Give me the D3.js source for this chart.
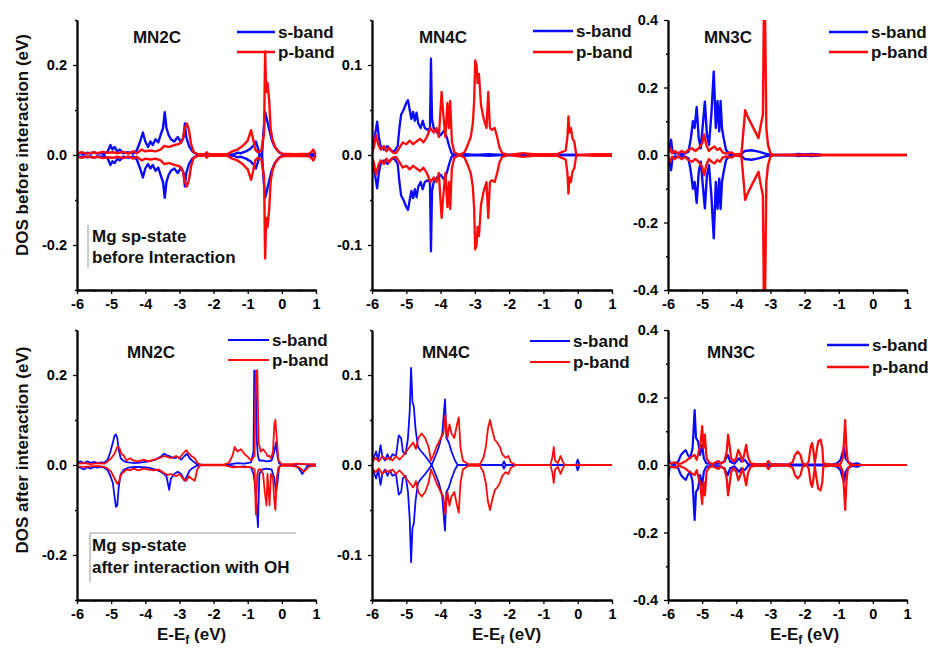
<!DOCTYPE html>
<html>
<head>
<meta charset="utf-8">
<script src="https://cdn.jsdelivr.net/npm/d3@7"></script>
<style>
  html, body { margin: 0; padding: 0; background: #ffffff; }
  svg { display: block; font-family: "Liberation Sans", Arial, sans-serif; font-weight: bold; }
</style>
</head>
<body>
<script>
// ---------------- DATA ----------------
const energyTicks = [-6, -5, -4, -3, -2, -1, 0, 1];
const energyMinorTicks = [-5.5, -4.5, -3.5, -2.5, -1.5, -0.5, 0.5];
const panelTitles = ["MN2C", "MN4C", "MN3C", "MN2C", "MN4C", "MN3C"];
const yLimits = [0.3, 0.15, 0.4, 0.3, 0.15, 0.4];
const yMajorTicks = [[-0.2, 0, 0.2], [-0.1, 0, 0.1], [-0.4, -0.2, 0, 0.2, 0.4],
                     [-0.2, 0, 0.2], [-0.1, 0, 0.1], [-0.4, -0.2, 0, 0.2, 0.4]];
const yMinorTicks = [[-0.3, -0.1, 0.1, 0.3], [-0.15, -0.05, 0.05, 0.15], [-0.3, -0.1, 0.1, 0.3],
                     [-0.3, -0.1, 0.1, 0.3], [-0.15, -0.05, 0.05, 0.15], [-0.3, -0.1, 0.1, 0.3]];
const legendLabels = ["s-band", "p-band"];
const rowTitles = ["DOS before interaction (eV)", "DOS after interaction (eV)"];
const noteBefore = ["Mg sp-state", "before Interaction"];
const noteAfter = ["Mg sp-state", "after interaction with OH"];

// rows: [E - Ef, spin-up DOS, spin-down DOS]
const mn2cBeforeS = [
 [-6.0,0.002,-0.002],[-5.9,0.004,-0.004],[-5.8,0.002,-0.003],[-5.7,0.005,-0.005],[-5.6,0.003,-0.003],
 [-5.5,0.006,-0.006],[-5.4,0.003,-0.003],[-5.3,0.004,-0.004],[-5.2,0.002,-0.002],[-5.1,0.008,-0.008],
 [-5.02,0.022,-0.022],[-4.96,0.012,-0.014],[-4.9,0.018,-0.018],[-4.82,0.008,-0.008],[-4.75,0.012,-0.012],
 [-4.65,0.004,-0.004],[-4.5,0.006,-0.006],[-4.35,0.003,-0.003],[-4.25,0.01,-0.01],[-4.15,0.03,-0.03],
 [-4.07,0.05,-0.05],[-4.0,0.03,-0.03],[-3.92,0.018,-0.02],[-3.85,0.03,-0.03],[-3.78,0.022,-0.022],
 [-3.7,0.035,-0.035],[-3.62,0.028,-0.028],[-3.55,0.045,-0.045],[-3.48,0.06,-0.06],[-3.43,0.095,-0.095],
 [-3.38,0.06,-0.06],[-3.32,0.045,-0.045],[-3.25,0.035,-0.035],[-3.15,0.03,-0.03],[-3.05,0.04,-0.04],
 [-2.95,0.028,-0.028],[-2.88,0.04,-0.04],[-2.84,0.07,-0.07],[-2.8,0.04,-0.04],[-2.72,0.02,-0.02],
 [-2.62,0.008,-0.008],[-2.5,0.002,-0.002],[-2.2,0.001,-0.001],[-1.6,0.001,-0.001],[-1.4,0.002,-0.002],
 [-1.3,0.005,-0.005],[-1.2,0.004,-0.004],[-1.05,0.008,-0.008],[-0.92,0.014,-0.014],[-0.82,0.022,-0.022],
 [-0.76,0.03,-0.03],[-0.7,0.015,-0.015],[-0.65,0.0,0.0],[-0.58,0.0,0.0],[-0.53,0.06,-0.06],
 [-0.49,0.095,-0.095],[-0.44,0.08,-0.08],[-0.38,0.06,-0.06],[-0.3,0.035,-0.035],[-0.22,0.02,-0.02],
 [-0.15,0.012,-0.012],[-0.05,0.004,-0.004],[0.1,0.001,-0.001],[0.8,0.001,-0.001],[0.9,0.003,-0.003],
 [1.0,0.001,-0.001]
];
const mn2cBeforeP = [
 [-6.0,0.004,-0.004],[-5.85,0.006,-0.006],[-5.7,0.003,-0.003],[-5.55,0.006,-0.006],[-5.4,0.004,-0.004],
 [-5.25,0.007,-0.007],[-5.1,0.005,-0.005],[-4.95,0.006,-0.006],[-4.8,0.004,-0.004],[-4.65,0.007,-0.007],
 [-4.5,0.003,-0.003],[-4.35,0.008,-0.008],[-4.25,0.004,-0.004],[-4.1,0.012,-0.012],[-4.0,0.008,-0.008],
 [-3.85,0.01,-0.01],[-3.7,0.008,-0.008],[-3.55,0.012,-0.012],[-3.45,0.02,-0.02],[-3.3,0.018,-0.018],
 [-3.15,0.022,-0.022],[-3.0,0.025,-0.025],[-2.9,0.035,-0.035],[-2.84,0.06,-0.06],[-2.78,0.07,-0.07],
 [-2.72,0.055,-0.055],[-2.66,0.025,-0.025],[-2.58,0.006,-0.006],[-2.45,0.002,-0.002],[-2.25,0.002,-0.002],
 [-2.2,0.006,-0.006],[-2.15,0.002,-0.002],[-1.6,0.002,-0.002],[-1.45,0.008,-0.008],[-1.3,0.012,-0.012],
 [-1.15,0.02,-0.02],[-1.0,0.032,-0.032],[-0.9,0.055,-0.055],[-0.84,0.035,-0.035],[-0.78,0.012,-0.012],
 [-0.7,0.006,-0.006],[-0.6,0.01,-0.01],[-0.52,0.05,-0.05],[-0.49,0.23,-0.23],[-0.46,0.14,-0.14],
 [-0.42,0.16,-0.16],[-0.37,0.12,-0.12],[-0.33,0.06,-0.06],[-0.28,0.035,-0.035],[-0.2,0.018,-0.018],
 [-0.1,0.008,-0.008],[0.0,0.003,-0.003],[0.4,0.002,-0.002],[0.8,0.003,-0.003],[0.88,0.008,-0.008],
 [0.92,0.012,-0.012],[0.98,0.003,-0.003],[1.0,0.002,-0.002]
];
const mn4cBeforeS = [
 [-6.0,0.005,-0.005],[-5.95,0.012,-0.012],[-5.9,0.025,-0.025],[-5.85,0.037,-0.037],[-5.8,0.02,-0.02],
 [-5.75,0.01,-0.01],[-5.65,0.006,-0.006],[-5.55,0.01,-0.01],[-5.45,0.005,-0.005],[-5.35,0.004,-0.004],
 [-5.25,0.01,-0.01],[-5.2,0.03,-0.03],[-5.15,0.045,-0.045],[-5.08,0.05,-0.05],[-5.0,0.058,-0.058],
 [-4.95,0.061,-0.061],[-4.9,0.05,-0.05],[-4.85,0.04,-0.04],[-4.8,0.048,-0.048],[-4.75,0.038,-0.038],
 [-4.7,0.047,-0.047],[-4.65,0.035,-0.035],[-4.58,0.03,-0.03],[-4.52,0.038,-0.038],[-4.46,0.03,-0.03],
 [-4.38,0.028,-0.028],[-4.31,0.03,-0.03],[-4.28,0.107,-0.107],[-4.25,0.04,-0.04],[-4.2,0.03,-0.03],
 [-4.1,0.025,-0.025],[-4.0,0.022,-0.022],[-3.9,0.027,-0.027],[-3.82,0.02,-0.02],[-3.75,0.01,-0.01],
 [-3.68,0.002,-0.002],[-3.6,0.0,0.0],[-3.3,0.001,-0.001],[-3.0,0.0,0.0],[-2.6,0.001,-0.001],
 [-2.2,0.0,0.0],[0.0,0.0,0.0]
];
const mn4cBeforeP = [
 [-6.0,0.003,-0.003],[-5.95,0.008,-0.008],[-5.88,0.022,-0.022],[-5.82,0.012,-0.012],[-5.75,0.006,-0.006],
 [-5.65,0.01,-0.01],[-5.58,0.004,-0.004],[-5.5,0.008,-0.008],[-5.4,0.003,-0.003],[-5.3,0.002,-0.002],
 [-5.2,0.008,-0.008],[-5.1,0.014,-0.014],[-5.0,0.012,-0.012],[-4.9,0.016,-0.016],[-4.8,0.012,-0.012],
 [-4.7,0.015,-0.015],[-4.6,0.018,-0.018],[-4.5,0.014,-0.014],[-4.4,0.02,-0.02],[-4.3,0.03,-0.03],
 [-4.2,0.025,-0.025],[-4.12,0.03,-0.03],[-4.05,0.02,-0.02],[-3.97,0.07,-0.07],[-3.92,0.045,-0.045],
 [-3.86,0.02,-0.02],[-3.8,0.058,-0.058],[-3.76,0.03,-0.03],[-3.72,0.06,-0.06],[-3.67,0.015,-0.015],
 [-3.6,0.003,-0.003],[-3.45,0.0,0.0],[-3.3,0.003,-0.003],[-3.2,0.012,-0.012],[-3.12,0.02,-0.02],
 [-3.06,0.035,-0.035],[-3.02,0.06,-0.06],[-2.99,0.105,-0.105],[-2.95,0.1,-0.1],[-2.92,0.08,-0.08],
 [-2.88,0.09,-0.09],[-2.82,0.055,-0.055],[-2.74,0.04,-0.04],[-2.66,0.03,-0.03],[-2.61,0.07,-0.07],
 [-2.56,0.03,-0.03],[-2.5,0.028,-0.028],[-2.42,0.03,-0.03],[-2.35,0.02,-0.02],[-2.28,0.008,-0.008],
 [-2.2,0.002,-0.002],[-2.0,0.0,0.0],[-1.6,0.002,-0.002],[-1.3,0.001,-0.001],[-0.6,0.001,-0.001],
 [-0.35,0.005,-0.005],[-0.3,0.02,-0.02],[-0.27,0.043,-0.043],[-0.24,0.025,-0.025],[-0.2,0.03,-0.03],
 [-0.15,0.018,-0.018],[-0.1,0.015,-0.015],[-0.05,0.002,-0.002],[0.0,0.0,0.0],[0.5,0.001,-0.001],
 [1.0,0.001,-0.001]
];
const mn3cBeforeS = [
 [-6.0,0.005,-0.005],[-5.95,0.02,-0.02],[-5.91,0.045,-0.045],[-5.87,0.01,-0.01],[-5.8,0.004,-0.004],
 [-5.7,0.006,-0.006],[-5.6,0.003,-0.003],[-5.5,0.005,-0.005],[-5.4,0.01,-0.01],[-5.33,0.05,-0.05],
 [-5.27,0.1,-0.1],[-5.22,0.08,-0.08],[-5.16,0.142,-0.142],[-5.1,0.05,-0.05],[-5.04,0.02,-0.02],
 [-4.98,0.09,-0.09],[-4.92,0.158,-0.158],[-4.86,0.06,-0.06],[-4.8,0.03,-0.03],[-4.73,0.12,-0.12],
 [-4.66,0.247,-0.247],[-4.6,0.08,-0.08],[-4.55,0.16,-0.16],[-4.5,0.07,-0.07],[-4.46,0.16,-0.16],
 [-4.42,0.08,-0.08],[-4.37,0.05,-0.05],[-4.3,0.015,-0.015],[-4.2,0.003,-0.003],[-4.0,0.002,-0.002],
 [-3.85,0.003,-0.003],[-3.75,0.012,-0.012],[-3.55,0.014,-0.014],[-3.35,0.01,-0.01],[-3.15,0.004,-0.004],
 [-3.0,0.001,-0.001],[-2.3,0.0,0.0],[-2.2,0.003,-0.003],[-2.0,0.002,-0.002],[-1.8,0.003,-0.003],
 [-1.6,0.002,-0.002],[-1.5,0.0,0.0]
];
const mn3cBeforeP = [
 [-6.0,0.005,-0.005],[-5.93,0.02,-0.02],[-5.88,0.005,-0.005],[-5.8,0.012,-0.012],[-5.7,0.004,-0.004],
 [-5.6,0.012,-0.012],[-5.5,0.006,-0.006],[-5.4,0.015,-0.015],[-5.3,0.02,-0.02],[-5.2,0.012,-0.012],
 [-5.1,0.02,-0.02],[-5.0,0.035,-0.035],[-4.94,0.06,-0.06],[-4.88,0.03,-0.03],[-4.8,0.012,-0.012],
 [-4.72,0.02,-0.02],[-4.64,0.025,-0.025],[-4.56,0.015,-0.015],[-4.48,0.02,-0.02],[-4.4,0.008,-0.008],
 [-4.3,0.004,-0.004],[-4.15,0.008,-0.008],[-4.05,0.002,-0.002],[-3.85,0.004,-0.004],[-3.8,0.06,-0.06],
 [-3.74,0.133,-0.133],[-3.65,0.11,-0.11],[-3.55,0.09,-0.09],[-3.45,0.07,-0.07],[-3.35,0.05,-0.05],
 [-3.28,0.09,-0.09],[-3.22,0.12,-0.12],[-3.19,0.45,-0.45],[-3.16,0.45,-0.45],[-3.12,0.08,-0.08],
 [-3.07,0.03,-0.03],[-3.0,0.005,-0.005],[-2.9,0.0,0.0],[1.0,0.0,0.0]
];
const mn2cAfterS = [
 [-6.0,0.004,-0.004],[-5.9,0.008,-0.006],[-5.8,0.004,-0.01],[-5.7,0.008,-0.005],[-5.6,0.005,-0.008],
 [-5.5,0.007,-0.004],[-5.4,0.004,-0.006],[-5.3,0.006,-0.004],[-5.2,0.005,-0.006],[-5.1,0.012,-0.012],
 [-5.02,0.03,-0.025],[-4.95,0.05,-0.04],[-4.9,0.065,-0.07],[-4.86,0.068,-0.093],[-4.82,0.06,-0.09],
 [-4.78,0.035,-0.05],[-4.72,0.015,-0.02],[-4.62,0.008,-0.01],[-4.5,0.006,-0.006],[-4.3,0.004,-0.004],
 [-4.1,0.006,-0.005],[-3.9,0.008,-0.006],[-3.7,0.012,-0.01],[-3.55,0.018,-0.015],[-3.45,0.025,-0.02],
 [-3.38,0.022,-0.025],[-3.3,0.02,-0.055],[-3.25,0.018,-0.03],[-3.15,0.015,-0.02],[-3.05,0.018,-0.015],
 [-2.95,0.012,-0.02],[-2.85,0.02,-0.035],[-2.78,0.025,-0.025],[-2.7,0.015,-0.012],[-2.6,0.008,-0.006],
 [-2.5,0.002,-0.002],[-2.3,0.0,0.0],[-1.6,0.0,0.0],[-1.5,0.002,-0.002],[-1.3,0.004,-0.004],
 [-1.1,0.003,-0.003],[-0.9,0.006,-0.006],[-0.83,0.03,-0.02],[-0.81,0.21,-0.03],[-0.77,0.2,-0.06],
 [-0.73,0.05,-0.1],[-0.7,0.02,-0.138],[-0.66,0.01,-0.02],[-0.58,0.01,-0.01],[-0.45,0.008,-0.008],
 [-0.3,0.01,-0.01],[-0.22,0.03,-0.03],[-0.17,0.05,-0.06],[-0.13,0.02,-0.04],[-0.08,0.004,-0.004],
 [0.0,0.0,0.0],[0.4,0.0,-0.001],[0.5,0.002,-0.008],[0.6,0.002,-0.02],[0.66,0.002,-0.012],
 [0.75,0.0,-0.002],[1.0,0.0,0.0]
];
const mn2cAfterP = [
 [-6.0,0.003,-0.003],[-5.8,0.004,-0.004],[-5.6,0.002,-0.003],[-5.4,0.004,-0.002],[-5.2,0.003,-0.004],
 [-5.1,0.008,-0.008],[-5.0,0.015,-0.015],[-4.9,0.025,-0.03],[-4.82,0.04,-0.042],[-4.76,0.038,-0.035],
 [-4.7,0.025,-0.02],[-4.62,0.02,-0.015],[-4.55,0.01,-0.01],[-4.45,0.015,-0.012],[-4.35,0.01,-0.008],
 [-4.2,0.008,-0.012],[-4.05,0.012,-0.008],[-3.9,0.008,-0.01],[-3.75,0.012,-0.012],[-3.6,0.015,-0.01],
 [-3.45,0.02,-0.018],[-3.35,0.018,-0.022],[-3.25,0.015,-0.02],[-3.1,0.02,-0.025],[-3.0,0.015,-0.02],
 [-2.9,0.025,-0.03],[-2.8,0.033,-0.035],[-2.72,0.025,-0.025],[-2.65,0.02,-0.03],[-2.55,0.015,-0.035],
 [-2.48,0.005,-0.01],[-2.4,0.001,-0.001],[-1.7,0.001,-0.001],[-1.55,0.005,-0.003],[-1.45,0.02,-0.005],
 [-1.38,0.04,-0.005],[-1.3,0.03,-0.004],[-1.2,0.035,-0.004],[-1.1,0.025,-0.005],[-1.0,0.018,-0.004],
 [-0.9,0.01,-0.005],[-0.8,0.02,-0.01],[-0.76,0.21,-0.11],[-0.72,0.21,-0.02],[-0.68,0.05,-0.01],
 [-0.62,0.03,-0.01],[-0.55,0.035,-0.02],[-0.5,0.03,-0.06],[-0.45,0.025,-0.09],[-0.42,0.02,-0.02],
 [-0.36,0.02,-0.09],[-0.32,0.015,-0.02],[-0.26,0.03,-0.03],[-0.22,0.09,-0.08],[-0.19,0.1,-0.1],
 [-0.15,0.06,-0.03],[-0.1,0.01,-0.005],[0.0,0.002,-0.002],[0.3,0.002,-0.002],[0.5,0.003,-0.005],
 [0.65,0.002,-0.015],[0.8,0.002,-0.003],[1.0,0.002,-0.002]
];
const mn4cAfterS = [
 [-6.0,0.003,-0.003],[-5.95,0.008,-0.008],[-5.88,0.015,-0.015],[-5.82,0.005,-0.005],[-5.75,0.022,-0.022],
 [-5.7,0.01,-0.01],[-5.62,0.005,-0.005],[-5.55,0.012,-0.012],[-5.48,0.006,-0.006],[-5.4,0.012,-0.012],
 [-5.3,0.01,-0.01],[-5.22,0.033,-0.033],[-5.15,0.03,-0.03],[-5.1,0.015,-0.015],[-5.02,0.012,-0.012],
 [-4.95,0.03,-0.03],[-4.9,0.06,-0.06],[-4.86,0.108,-0.108],[-4.82,0.07,-0.07],[-4.78,0.065,-0.065],
 [-4.73,0.04,-0.04],[-4.66,0.02,-0.02],[-4.56,0.015,-0.015],[-4.45,0.01,-0.01],[-4.35,0.005,-0.005],
 [-4.26,0.0,0.0],[-4.15,0.01,-0.01],[-4.05,0.02,-0.02],[-3.95,0.035,-0.035],[-3.9,0.06,-0.06],
 [-3.87,0.073,-0.073],[-3.83,0.03,-0.03],[-3.76,0.025,-0.025],[-3.68,0.015,-0.015],[-3.58,0.005,-0.005],
 [-3.5,0.0,0.0],[-2.2,0.0,0.0],[-2.15,0.004,-0.004],[-2.1,0.0,0.0],[-0.05,0.0,0.0],
 [0.0,0.006,-0.006],[0.05,0.0,0.0],[1.0,0.0,0.0]
];
const mn4cAfterP = [
 [-6.0,0.003,-0.003],[-5.9,0.008,-0.008],[-5.8,0.004,-0.004],[-5.7,0.01,-0.01],[-5.6,0.006,-0.006],
 [-5.5,0.008,-0.008],[-5.4,0.005,-0.005],[-5.3,0.01,-0.01],[-5.2,0.006,-0.006],[-5.1,0.01,-0.01],
 [-5.0,0.015,-0.015],[-4.9,0.02,-0.02],[-4.8,0.025,-0.025],[-4.72,0.018,-0.018],[-4.65,0.03,-0.03],
 [-4.55,0.035,-0.035],[-4.45,0.03,-0.03],[-4.35,0.02,-0.02],[-4.28,0.005,-0.005],[-4.22,0.01,-0.01],
 [-4.12,0.02,-0.02],[-4.02,0.028,-0.028],[-3.92,0.035,-0.035],[-3.86,0.055,-0.055],[-3.8,0.03,-0.03],
 [-3.74,0.045,-0.045],[-3.68,0.035,-0.035],[-3.6,0.03,-0.03],[-3.52,0.045,-0.045],[-3.47,0.053,-0.053],
 [-3.42,0.02,-0.02],[-3.35,0.005,-0.005],[-3.2,0.001,-0.001],[-2.85,0.001,-0.001],[-2.75,0.008,-0.008],
 [-2.68,0.02,-0.02],[-2.62,0.04,-0.04],[-2.56,0.05,-0.05],[-2.5,0.04,-0.04],[-2.42,0.028,-0.028],
 [-2.35,0.025,-0.025],[-2.27,0.02,-0.02],[-2.2,0.012,-0.012],[-2.1,0.008,-0.008],[-2.02,0.01,-0.01],
 [-1.95,0.003,-0.003],[-1.8,0.0,0.0],[-0.8,0.0,0.0],[-0.74,0.008,-0.008],[-0.7,0.02,-0.02],
 [-0.66,0.005,-0.005],[-0.58,0.002,-0.002],[-0.5,0.01,-0.01],[-0.44,0.004,-0.004],[-0.38,0.0,0.0],
 [1.0,0.0,0.0]
];
const mn3cAfterS = [
 [-6.0,0.04,-0.04],[-5.96,0.01,-0.01],[-5.9,0.004,-0.004],[-5.8,0.003,-0.003],[-5.7,0.01,-0.01],
 [-5.62,0.03,-0.03],[-5.55,0.038,-0.038],[-5.48,0.044,-0.044],[-5.42,0.03,-0.03],[-5.35,0.02,-0.02],
 [-5.28,0.05,-0.05],[-5.22,0.163,-0.163],[-5.18,0.08,-0.08],[-5.12,0.07,-0.07],[-5.06,0.03,-0.03],
 [-5.0,0.06,-0.06],[-4.95,0.02,-0.02],[-4.88,0.005,-0.005],[-4.7,0.003,-0.003],[-4.5,0.004,-0.004],
 [-4.35,0.01,-0.01],[-4.25,0.03,-0.03],[-4.18,0.01,-0.01],[-4.05,0.004,-0.004],[-3.92,0.02,-0.02],
 [-3.85,0.01,-0.01],[-3.75,0.015,-0.015],[-3.65,0.002,-0.002],[-3.0,0.002,-0.002],[-2.3,0.001,-0.001],
 [-1.2,0.001,-0.001],[-1.05,0.005,-0.005],[-0.95,0.015,-0.015],[-0.88,0.04,-0.04],[-0.84,0.05,-0.05],
 [-0.8,0.02,-0.02],[-0.72,0.008,-0.008],[-0.6,0.003,-0.003],[-0.45,0.005,-0.005],[-0.35,0.0,0.0]
];
const mn3cAfterP = [
 [-6.0,0.01,-0.01],[-5.92,0.005,-0.005],[-5.8,0.008,-0.008],[-5.7,0.003,-0.003],[-5.6,0.005,-0.005],
 [-5.5,0.01,-0.01],[-5.4,0.018,-0.018],[-5.3,0.025,-0.025],[-5.22,0.03,-0.03],[-5.16,0.015,-0.015],
 [-5.1,0.04,-0.04],[-5.05,0.06,-0.06],[-5.0,0.115,-0.115],[-4.96,0.05,-0.05],[-4.92,0.09,-0.09],
 [-4.87,0.02,-0.02],[-4.8,0.008,-0.008],[-4.7,0.003,-0.003],[-4.6,0.008,-0.008],[-4.52,0.012,-0.012],
 [-4.45,0.004,-0.004],[-4.35,0.01,-0.01],[-4.28,0.04,-0.04],[-4.24,0.09,-0.09],[-4.2,0.06,-0.06],
 [-4.15,0.02,-0.02],[-4.08,0.01,-0.01],[-4.0,0.02,-0.02],[-3.94,0.045,-0.045],[-3.88,0.03,-0.03],
 [-3.82,0.01,-0.01],[-3.76,0.035,-0.035],[-3.71,0.06,-0.06],[-3.66,0.025,-0.025],[-3.58,0.005,-0.005],
 [-3.4,0.002,-0.002],[-3.12,0.003,-0.003],[-3.06,0.012,-0.012],[-3.0,0.003,-0.003],[-2.5,0.001,-0.001],
 [-2.35,0.008,-0.008],[-2.28,0.03,-0.03],[-2.2,0.04,-0.04],[-2.12,0.03,-0.03],[-2.06,0.005,-0.005],
 [-1.95,0.0,0.0],[-1.88,0.01,-0.01],[-1.82,0.055,-0.055],[-1.78,0.065,-0.065],[-1.74,0.04,-0.04],
 [-1.7,0.005,-0.005],[-1.65,0.04,-0.04],[-1.6,0.07,-0.07],[-1.53,0.075,-0.075],[-1.48,0.05,-0.05],
 [-1.45,0.005,-0.005],[-1.2,0.001,-0.001],[-0.95,0.003,-0.003],[-0.88,0.02,-0.02],[-0.84,0.08,-0.08],
 [-0.81,0.133,-0.133],[-0.78,0.06,-0.06],[-0.74,0.015,-0.015],[-0.68,0.003,-0.003],[-0.5,0.0,0.0],
 [1.0,0.0,0.0]
];

// ---------------- LAYOUT / STYLE ----------------
const sBands = [mn2cBeforeS, mn4cBeforeS, mn3cBeforeS, mn2cAfterS, mn4cAfterS, mn3cAfterS];
const pBands = [mn2cBeforeP, mn4cBeforeP, mn3cBeforeP, mn2cAfterP, mn4cAfterP, mn3cAfterP];
const BLUE = "#0a0aff", RED = "#ff0a0a";

const frames = [
  {x0: 77,  x1: 316, y0: 20,  y1: 290},
  {x0: 372, x1: 612, y0: 20,  y1: 290},
  {x0: 668, x1: 907, y0: 20,  y1: 290},
  {x0: 77,  x1: 316, y0: 330, y1: 600},
  {x0: 372, x1: 612, y0: 330, y1: 600},
  {x0: 668, x1: 907, y0: 330, y1: 600}
];
const titlePos = [[157, 43], [443, 43], [728, 43], [151, 358], [446, 358], [731, 358]];
const legendPos = [
  {lx0: 237, lx1: 275, ys: 32,  yp: 52,  tx: 278},
  {lx0: 533, lx1: 573, ys: 31,  yp: 52,  tx: 576},
  {lx0: 829, lx1: 868, ys: 32,  yp: 52,  tx: 871},
  {lx0: 228, lx1: 269, ys: 340, yp: 360, tx: 272},
  {lx0: 530, lx1: 570, ys: 341, yp: 362, tx: 573},
  {lx0: 827, lx1: 869, ys: 345, yp: 367, tx: 872}
];
const lineWidths = [2.4, 2.3, 2.4, 1.8, 1.8, 2.2];

const svg = d3.select("body").append("svg").attr("width", 932).attr("height", 655);
svg.append("rect").attr("width", 932).attr("height", 655).attr("fill", "#ffffff");
const defs = svg.append("defs");

frames.forEach((f, i) => {
  const x = d3.scaleLinear().domain([-6, 1]).range([f.x0, f.x1]);
  const y = d3.scaleLinear().domain([-yLimits[i], yLimits[i]]).range([f.y1, f.y0]);
  const g = svg.append("g");

  defs.append("clipPath").attr("id", "clip" + i)
    .append("rect").attr("x", f.x0).attr("y", f.y0)
    .attr("width", f.x1 - f.x0 + 4).attr("height", f.y1 - f.y0);

  const plot = g.append("g").attr("clip-path", "url(#clip" + i + ")");
  const upLine = d3.line().x(d => x(d[0])).y(d => y(d[1]));
  const dnLine = d3.line().x(d => x(d[0])).y(d => y(d[2]));
  [[sBands[i], BLUE], [pBands[i], RED]].forEach(([data, col]) => {
    [upLine, dnLine].forEach(ln => {
      plot.append("path").datum(data).attr("d", ln)
        .attr("fill", "none").attr("stroke", col)
        .attr("stroke-width", lineWidths[i]).attr("stroke-linejoin", "round");
    });
  });

  // axes
  const xAxis = d3.axisBottom(x).tickValues(energyTicks).tickSize(4).tickSizeOuter(0)
    .tickPadding(5).tickFormat(d => String(d));
  const xMinor = d3.axisBottom(x).tickValues(energyMinorTicks).tickSize(2).tickSizeOuter(0).tickFormat("");
  const yAxis = d3.axisLeft(y).tickValues(yMajorTicks[i]).tickSize(4).tickSizeOuter(0)
    .tickPadding(6).tickFormat(d => d.toFixed(1));
  const yMinor = d3.axisLeft(y).tickValues(yMinorTicks[i]).tickSize(2).tickSizeOuter(0).tickFormat("");

  [xAxis, xMinor].forEach(ax => {
    g.append("g").attr("transform", `translate(0,${f.y1})`).call(ax);
  });
  [yAxis, yMinor].forEach(ax => {
    g.append("g").attr("transform", `translate(${f.x0},0)`).call(ax);
  });
  g.selectAll(".domain").attr("stroke", "#000").attr("stroke-width", 1.8);
  g.selectAll(".tick line").attr("stroke", "#000").attr("stroke-width", 1.3);
  g.selectAll(".tick text").attr("fill", "#000")
    .style("font-family", "'Liberation Sans', Arial, sans-serif")
    .style("font-weight", "bold").style("font-size", "14.5px");

  // title
  g.append("text").attr("x", titlePos[i][0]).attr("y", titlePos[i][1])
    .attr("text-anchor", "middle").style("font-size", "17px").attr("fill", "#111")
    .text(panelTitles[i]);

  // legend
  const L = legendPos[i];
  [[L.ys, BLUE, legendLabels[0]], [L.yp, RED, legendLabels[1]]].forEach(([yy, col, lab]) => {
    g.append("line").attr("x1", L.lx0).attr("x2", L.lx1).attr("y1", yy).attr("y2", yy)
      .attr("stroke", col).attr("stroke-width", i >= 3 && i < 5 ? 1.8 : 2.6);
    g.append("text").attr("x", L.tx).attr("y", yy + 6).style("font-size", "17px")
      .attr("fill", "#111").text(lab);
  });
});

// row titles
rowTitles.forEach((t, r) => {
  svg.append("text").attr("transform", `translate(28,${r === 0 ? 145 : 450}) rotate(-90)`)
    .attr("text-anchor", "middle").style("font-size", "17px").attr("fill", "#111").text(t);
});

// x titles
[157, 472, 770].forEach(xx => {
  const t = svg.append("text").attr("x", xx).attr("y", 640).style("font-size", "17px").attr("fill", "#111");
  t.append("tspan").text("E-E");
  t.append("tspan").attr("dy", 4).style("font-size", "12px").text("f");
  t.append("tspan").attr("dy", -4).text(" (eV)");
});

// annotation: before
svg.append("line").attr("x1", 88).attr("x2", 88).attr("y1", 225).attr("y2", 268)
  .attr("stroke", "#999").attr("stroke-width", 1);
noteBefore.forEach((t, k) => {
  svg.append("text").attr("x", 92).attr("y", 242 + k * 21).style("font-size", "17px")
    .attr("fill", "#111").text(t);
});
// annotation: after
svg.append("path").attr("d", "M90,582 L90,533 L296,533")
  .attr("fill", "none").attr("stroke", "#999").attr("stroke-width", 1);
noteAfter.forEach((t, k) => {
  svg.append("text").attr("x", 92).attr("y", 551 + k * 22).style("font-size", "17px")
    .attr("fill", "#111").text(t);
});
</script>
</body>
</html>
